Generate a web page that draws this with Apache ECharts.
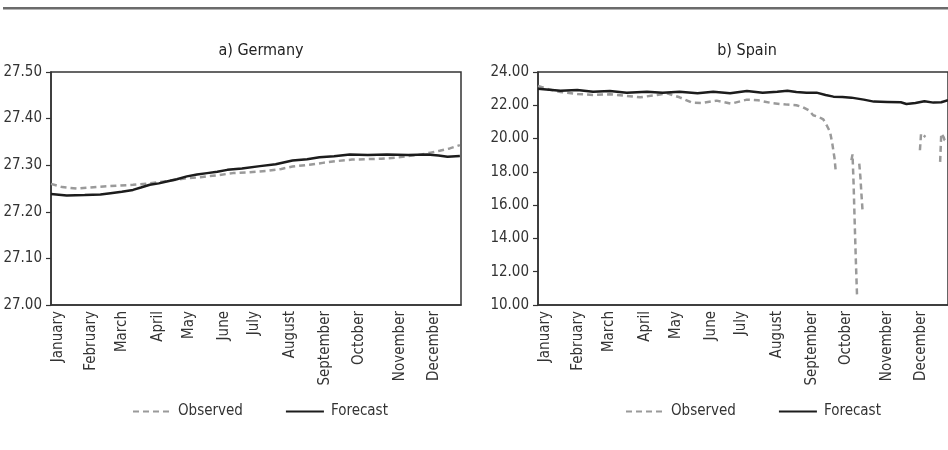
<!DOCTYPE html>
<html>
<head>
<meta charset="utf-8">
<script src="https://cdn.jsdelivr.net/npm/echarts@6/dist/echarts.min.js"></script>
<style>
html,body{margin:0;padding:0;background:#fff;}
#chart{width:948px;height:450px;}
</style>
</head>
<body>
<div id="chart"></div>
<script>
// ---- data ----
const months = ['January','February','March','April','May','June','July','August','September','October','November','December'];
const monthDays = [6, 36, 63, 95, 123, 154, 181, 213, 244, 274, 311, 341];
const seriesNames = ['Observed', 'Forecast'];
const panelTitles = ['a) Germany', 'b) Spain'];

const deForecastDays = [0, 14, 30, 44, 53, 63, 73, 80, 88, 96, 103, 112, 121, 130, 139, 148, 157, 170, 186, 200, 215, 228, 239, 252, 266, 282, 299, 318, 335, 345, 353, 364];
const deForecast = [27.238, 27.235, 27.236, 27.237, 27.240, 27.243, 27.247, 27.252, 27.258, 27.261, 27.265, 27.270, 27.276, 27.280, 27.283, 27.286, 27.290, 27.293, 27.298, 27.302, 27.310, 27.313, 27.317, 27.319, 27.323, 27.322, 27.323, 27.322, 27.323, 27.321, 27.318, 27.320];

const deObservedDays = [0, 10, 23, 44, 60, 73, 88, 103, 121, 133, 139, 150, 162, 177, 192, 205, 215, 230, 242, 255, 268, 281, 294, 307, 320, 330, 338, 346, 355, 364];
const deObserved = [27.260, 27.253, 27.250, 27.254, 27.256, 27.258, 27.261, 27.266, 27.272, 27.274, 27.276, 27.279, 27.283, 27.285, 27.288, 27.292, 27.297, 27.301, 27.305, 27.309, 27.312, 27.313, 27.314, 27.316, 27.320, 27.323, 27.327, 27.331, 27.336, 27.343];

const esForecastDays = [0, 10, 20, 35, 49, 64, 79, 97, 111, 126, 142, 156, 171, 186, 200, 213, 222, 230, 239, 248, 256, 263, 271, 279, 290, 299, 311, 323, 328, 336, 344, 352, 359, 365];
const esForecast = [23.00, 22.94, 22.88, 22.92, 22.82, 22.86, 22.76, 22.82, 22.76, 22.82, 22.72, 22.82, 22.72, 22.86, 22.76, 22.82, 22.88, 22.80, 22.76, 22.76, 22.62, 22.52, 22.50, 22.46, 22.34, 22.22, 22.20, 22.18, 22.08, 22.14, 22.24, 22.16, 22.18, 22.30];

const esObservedDays = [0, 10, 20, 35, 49, 64, 79, 91, 106, 115, 126, 137, 146, 159, 172, 186, 196, 209, 222, 230, 236, 241, 245, 250, 254, 257, 260, 262, 264, 265, 266, 279, 280, 281, 282, 283, 284, 285, 286, 287, 288, 289, 290, 340, 341, 342, 343, 344, 345, 346, 358, 359, 360, 361, 362, 363, 365];
const esObserved = [23.16, 22.95, 22.80, 22.68, 22.62, 22.66, 22.56, 22.48, 22.62, 22.72, 22.48, 22.16, 22.14, 22.28, 22.10, 22.34, 22.30, 22.12, 22.04, 22.00, 21.88, 21.70, 21.40, 21.30, 21.15, 20.80, 20.40, 19.70, 18.80, 18.10, null, 18.70, 19.05, 17.20, 14.80, 12.60, 10.60, null, 18.50, 17.70, 16.60, 15.60, null, 19.30, 20.30, 20.20, 20.20, 20.10, 20.10, null, 18.60, 20.30, 20.20, 20.10, 19.90, 19.85, 19.80];

// ---- chart ----
const FONT = "'Liberation Sans Narrow', 'DejaVu Sans Condensed', sans-serif";
const AXIS = '#333333';
const OBS_COLOR = '#9a9a9a';
const FC_COLOR = '#1c1c1c';

function pairs(days, vals) { return days.map((d, i) => [d, vals[i] === null ? '-' : vals[i]]); }

function xAxisCfg(gridIndex) {
  return {
    type: 'value', gridIndex, min: 0, max: 365,
    axisLine: { show: true, lineStyle: { color: AXIS, width: 1.5 } },
    axisTick: { show: false },
    splitLine: { show: false },
    axisLabel: {
      customValues: monthDays,
      formatter: v => months[monthDays.indexOf(v)] || '',
      rotate: 90, margin: 6, fontSize: 15, color: '#333', fontFamily: FONT
    }
  };
}
function yAxisCfg(gridIndex, min, max, interval) {
  return {
    type: 'value', gridIndex, min, max, interval,
    axisLine: { show: true, lineStyle: { color: AXIS, width: 1.5 } },
    axisTick: { show: true, length: 5, lineStyle: { color: AXIS, width: 1.2 } },
    splitLine: { show: false },
    axisLabel: { formatter: v => v.toFixed(2), margin: 9, fontSize: 15, color: '#333', fontFamily: FONT }
  };
}
function lineSeries(name, idx, data, dashed) {
  return {
    name, type: 'line', xAxisIndex: idx, yAxisIndex: idx, data,
    showSymbol: false, symbol: 'none', connectNulls: false, animation: false,
    lineStyle: dashed ? { color: OBS_COLOR, width: 2.5, type: [6, 4] } : { color: FC_COLOR, width: 2.5 },
    itemStyle: { color: dashed ? OBS_COLOR : FC_COLOR },
    z: dashed ? 2 : 3
  };
}
function legendCfg(left) {
  return {
    left, top: 399, itemWidth: 38, itemHeight: 14, itemGap: 42,
    data: seriesNames, selectedMode: false,
    itemStyle: { opacity: 0 },
    textStyle: { fontSize: 15, color: '#333', fontFamily: FONT, padding: [0, 0, 0, 2] }
  };
}

const chart = echarts.init(document.getElementById('chart'), null, { renderer: 'canvas' });
chart.setOption({
  animation: false,
  backgroundColor: '#ffffff',
  textStyle: { fontFamily: FONT },
  graphic: [{ type: 'rect', shape: { x: 3, y: 7, width: 945, height: 2.5 }, style: { fill: '#6b6b6b' } }],
  title: [
    { text: panelTitles[0], left: 256, top: 38, textAlign: 'center', textStyle: { fontSize: 16, fontWeight: 'normal', color: '#222', fontFamily: FONT } },
    { text: panelTitles[1], left: 742, top: 38, textAlign: 'center', textStyle: { fontSize: 16, fontWeight: 'normal', color: '#222', fontFamily: FONT } }
  ],
  legend: [legendCfg(127), legendCfg(620)],
  grid: [
    { left: 51, top: 72, width: 410, height: 233, show: true, borderColor: AXIS, borderWidth: 1.5, backgroundColor: 'transparent' },
    { left: 538, top: 72, width: 411, height: 233, show: true, borderColor: AXIS, borderWidth: 1.5, backgroundColor: 'transparent' }
  ],
  xAxis: [xAxisCfg(0), xAxisCfg(1)],
  yAxis: [yAxisCfg(0, 27.0, 27.5, 0.1), yAxisCfg(1, 10, 24, 2)],
  series: [
    lineSeries(seriesNames[0], 0, pairs(deObservedDays, deObserved), true),
    lineSeries(seriesNames[1], 0, pairs(deForecastDays, deForecast), false),
    lineSeries(seriesNames[0], 1, pairs(esObservedDays, esObserved), true),
    lineSeries(seriesNames[1], 1, pairs(esForecastDays, esForecast), false)
  ]
});
</script>
</body>
</html>
